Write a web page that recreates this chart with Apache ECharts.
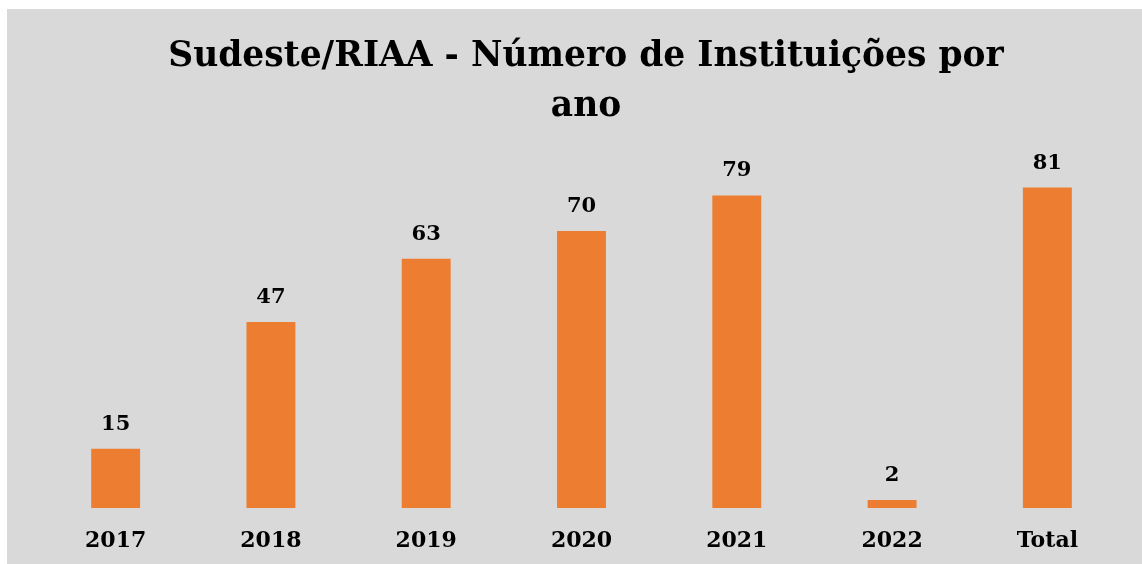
<!DOCTYPE html>
<html>
<head>
<meta charset="utf-8">
<script src="https://cdn.jsdelivr.net/npm/echarts@6/dist/echarts.min.js"></script>
<style>
  html, body { margin: 0; padding: 0; background: #ffffff; }
  #chart { position: absolute; left: 7px; top: 9px; width: 1135px; height: 555px; }
</style>
</head>
<body>
<div id="chart"></div>
<script>
// Dados do gráfico
var categorias = ['2017', '2018', '2019', '2020', '2021', '2022', 'Total'];
var instituicoes = [15, 47, 63, 70, 79, 2, 81];

var fonte = '"DejaVu Serif", "Liberation Serif", serif';

var chart = echarts.init(document.getElementById('chart'));

var option = {
    backgroundColor: '#d9d9d9',
    title: {
        text: 'Sudeste/RIAA - Número de Instituições por\nano',
        left: 574,
        textAlign: 'center',
        top: 18,
        textStyle: {
            fontFamily: fonte,
            fontWeight: 'bold',
            fontSize: 34.5,
            lineHeight: 50,
            color: '#000'
        }
    },
    grid: {
        left: 31,
        right: 17,
        top: 143,
        bottom: 56
    },
    xAxis: {
        type: 'category',
        data: categorias,
        axisLine: { show: false },
        axisTick: { show: false },
        axisLabel: {
            margin: 22,
            fontFamily: fonte,
            fontWeight: 'bold',
            fontSize: 22,
            color: '#000'
        }
    },
    yAxis: {
        type: 'value',
        min: 0,
        max: 90,
        show: false
    },
    series: [
        {
            name: 'Instituições',
            type: 'bar',
            data: instituicoes,
            barWidth: '31.5%',
            itemStyle: { color: '#ed7d31' },
            label: {
                show: true,
                position: 'top',
                distance: 14,
                fontFamily: fonte,
                fontWeight: 'bold',
                fontSize: 21,
                color: '#000'
            }
        }
    ]
};

chart.setOption(option);
</script>
</body>
</html>
